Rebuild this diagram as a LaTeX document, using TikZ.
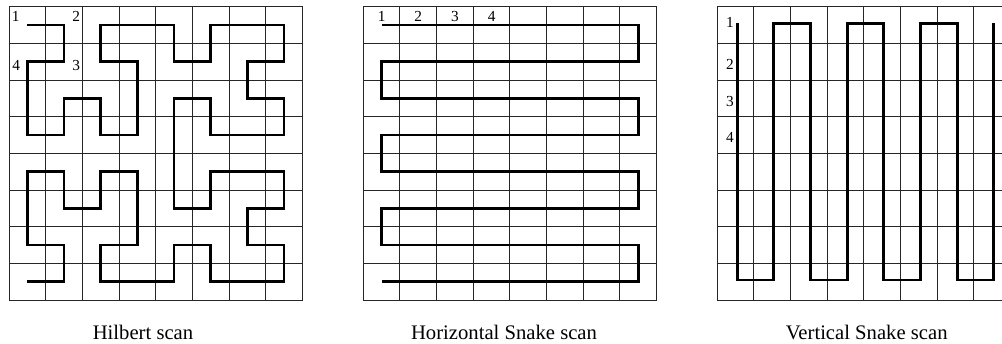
\documentclass[tikz,border=0pt]{standalone}
\usepackage{fontspec}
\setmainfont{Liberation Serif}
\begin{document}
\begin{tikzpicture}[x=0.75pt,y=-0.75pt,
  gridline/.style={black!85, line width=0.75pt, line cap=rect},
  scanpath/.style={black, line width=2.1pt, line join=miter},
  digit/.style={font=\fontsize{11.5}{13}\selectfont, inner sep=0pt, anchor=center},
  caption/.style={font=\fontsize{15.5}{18}\selectfont, inner sep=0pt, anchor=base}]
\useasboundingbox (0,0) rectangle (1002,343);
\clip (0,0) rectangle (1002,343);
% grids
\foreach \gx in {9,363.3,717.3}{
  \foreach \k in {0,...,8}{
    \draw[gridline] ({\gx+\k*36.667},6.7) -- ({\gx+\k*36.667},300);
    \draw[gridline] (\gx,{6.7+\k*36.667}) -- ({\gx+293.33},{6.7+\k*36.667});
  }
}
% Hilbert scan
\begin{scope}[shift={(9,6.7)}, x=27.5pt, y=-27.5pt, shift={(0.5,0.5)}]
\draw[scanpath] plot coordinates {
(0,0) (1,0) (1,1) (0,1) (0,2) (0,3) (1,3) (1,2) (2,2) (2,3) (3,3) (3,2) (3,1) (2,1) (2,0) (3,0)
(4,0) (4,1) (5,1) (5,0) (6,0) (7,0) (7,1) (6,1) (6,2) (7,2) (7,3) (6,3) (5,3) (5,2) (4,2) (4,3)
(4,4) (4,5) (5,5) (5,4) (6,4) (7,4) (7,5) (6,5) (6,6) (7,6) (7,7) (6,7) (5,7) (5,6) (4,6) (4,7)
(3,7) (2,7) (2,6) (3,6) (3,5) (3,4) (2,4) (2,5) (1,5) (1,4) (0,4) (0,5) (0,6) (1,6) (1,7) (0,7)};
\end{scope}
% Horizontal snake scan
\begin{scope}[shift={(363.3,6.7)}, x=27.5pt, y=-27.5pt, shift={(0.5,0.5)}]
\draw[scanpath] plot coordinates {
(0,0) (7,0) (7,1) (0,1) (0,2) (7,2) (7,3) (0,3) (0,4) (7,4) (7,5) (0,5) (0,6) (7,6) (7,7) (0,7)};
\end{scope}
% Vertical snake scan
\begin{scope}[shift={(718.8,4.9)}, x=27.5pt, y=-27.5pt, shift={(0.5,0.5)}]
\draw[scanpath] plot coordinates {
(0,0) (0,7) (1,7) (1,0) (2,0) (2,7) (3,7) (3,0) (4,0) (4,7) (5,7) (5,0) (6,0) (6,7) (7,7) (7,0)};
\end{scope}
% numbers
\node[digit] (h1) at (15.8,16.7) {1};
\node[digit] (h2) at (76.3,16.7) {2};
\node[digit] (h3) at (76.3,65.8) {3};
\node[digit] (h4) at (16.2,65.8) {4};
\node[digit] (s1) at (381.7,16.2) {1};
\node[digit] (s2) at (418.3,16.2) {2};
\node[digit] (s3) at (455.0,16.2) {3};
\node[digit] (s4) at (491.7,16.2) {4};
\node[digit] (v1) at (730,22.8) {1};
\node[digit] (v2) at (730,64.7) {2};
\node[digit] (v3) at (730,101.3) {3};
\node[digit] (v4) at (730,137.5) {4};
% captions
\node[caption] (cap1) at (143,339) {Hilbert scan};
\node[caption] (cap2) at (504,339) {Horizontal Snake scan};
\node[caption] (cap3) at (866.7,339) {Vertical Snake scan};
\end{tikzpicture}
\end{document}
